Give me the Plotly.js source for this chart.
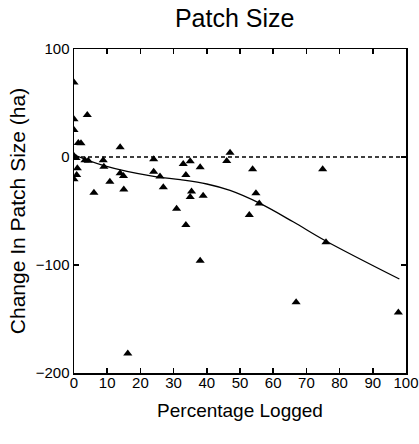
<!DOCTYPE html>
<html>
<head>
<meta charset="utf-8">
<script src="https://cdn.plot.ly/plotly-3.0.1.min.js"></script>
<style>html,body{margin:0;padding:0;background:#fff;}#chart{width:419px;height:444px;}</style>
</head>
<body>
<div id="chart"></div>
<script>
const pctLogged = [0, 4, 0, 0, 1.3, 2.1, 13.9, 0, 0.6, 3.3, 4.3, 8.8, 9, 24, 24, 25.9, 26.9, 32.9, 35, 33.7, 35.4, 35, 30.9, 1, 0.8, 0, 6, 10.8, 13.9, 14.9, 15, 38, 47, 46, 53.8, 74.9, 38.9, 54.8, 55.8, 52.8, 33.7, 38, 75.9, 66.9, 97.7, 16.2];
const patchChange = [69, 39, 35, 25, 13, 12.7, 9, 1, -1, -3, -3.4, -3, -9, -2, -13.6, -18, -28, -6.5, -4, -16.7, -32, -37, -48, -10.5, -16.7, -20.7, -33, -23, -15, -17.6, -30, -9.6, 4, -3.7, -11.4, -11.4, -35.8, -33.6, -43, -53.7, -63, -96, -79, -134.5, -144, -182];
const fitX = [0, 9, 24, 32, 40, 47, 56, 66, 76, 98];
const fitY = [2, -8, -18, -21, -25, -31, -43, -60, -78, -113];
const refX = [0, 100];
const refY = [0, 0];
const xTicks = [0, 10, 20, 30, 40, 50, 60, 70, 80, 90, 100];
const yTicks = [-200, -100, 0, 100];

const font = "Liberation Sans, Arial, sans-serif";
const traces = [
  {x: refX, y: refY, mode: 'lines', line: {color: '#000', width: 1.5, dash: '4px,3px'}, hoverinfo: 'skip'},
  {x: fitX, y: fitY, mode: 'lines', line: {color: '#000', width: 1.3, shape: 'spline', smoothing: 1}},
  {x: pctLogged, y: patchChange, mode: 'markers', marker: {symbol: 'triangle-up', size: 8, color: '#000'}}
];
const axisCommon = {
  showline: true, linecolor: '#000', linewidth: 1.5, mirror: 'ticks',
  ticks: 'inside', ticklen: 5, tickcolor: '#000', tickwidth: 1.5,
  showgrid: false, zeroline: false,
  tickfont: {family: font, size: 15, color: '#000'}
};
const layout = {
  width: 419, height: 444,
  margin: {l: 74, r: 13, t: 49, b: 71},
  paper_bgcolor: '#fff', plot_bgcolor: '#fff',
  showlegend: false,
  title: {text: 'Patch Size', font: {family: font, size: 25, color: '#000'}, x: 0.56, xanchor: 'center', y: 0.96, yanchor: 'middle'},
  xaxis: Object.assign({}, axisCommon, {range: [0, 100], tickvals: xTicks, ticktext: xTicks.map(String),
    ticklabelstandoff: -5,
    title: {text: 'Percentage Logged', font: {family: font, size: 19, color: '#000'}, standoff: 14}}),
  yaxis: Object.assign({}, axisCommon, {range: [-200, 100], tickvals: yTicks, ticktext: yTicks.map(v => v < 0 ? '\u2212' + Math.abs(v) : String(v)),
    title: {text: 'Change In Patch Size (ha)', font: {family: font, size: 21, color: '#000'}, standoff: 4}})
};
Plotly.newPlot('chart', traces, layout, {displayModeBar: false, staticPlot: true});
</script>
</body>
</html>
